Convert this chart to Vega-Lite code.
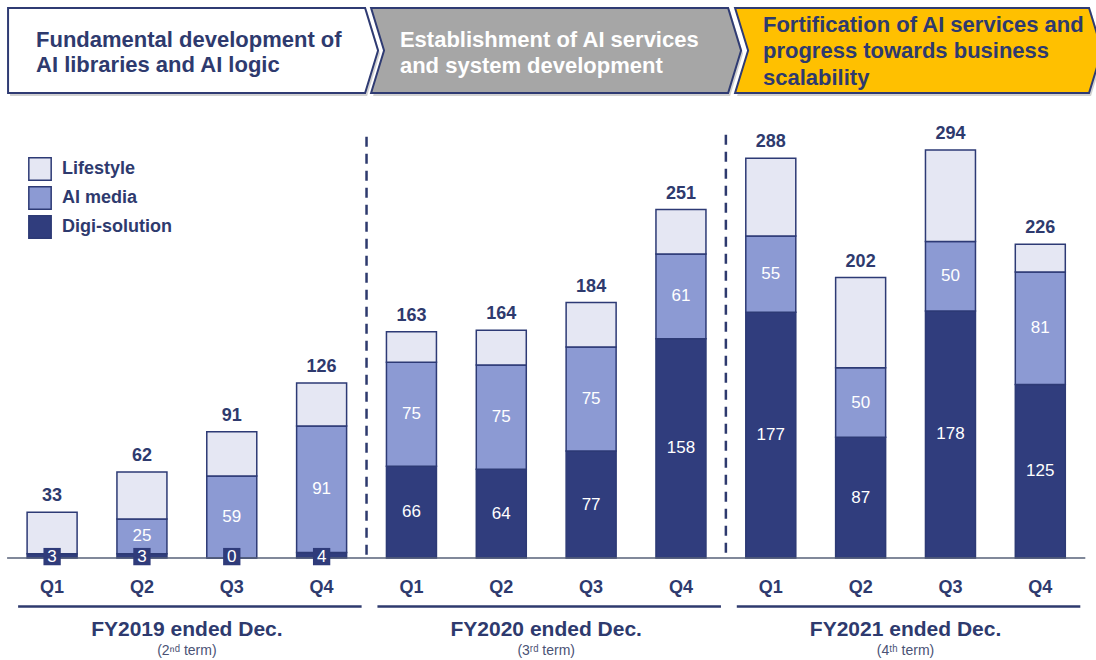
{
  "$schema": "https://vega.github.io/schema/vega-lite/v6.json",
  "width": 1096,
  "height": 660,
  "autosize": {"type": "none"},
  "padding": 0,
  "background": "white",
  "config": {"view": {"stroke": null}, "font": "Liberation Sans"},
  "data": {"values": [
      {"fy": "FY2019 ended Dec.", "term": "(2ⁿᵈ term)", "q": "Q1", "idx": 0, "segment": "Digi-solution", "rank": 1, "value": 3},
      {"fy": "FY2019 ended Dec.", "term": "(2ⁿᵈ term)", "q": "Q1", "idx": 0, "segment": "AI media", "rank": 2, "value": 0},
      {"fy": "FY2019 ended Dec.", "term": "(2ⁿᵈ term)", "q": "Q1", "idx": 0, "segment": "Lifestyle", "rank": 3, "value": 30},
      {"fy": "FY2019 ended Dec.", "term": "(2ⁿᵈ term)", "q": "Q2", "idx": 1, "segment": "Digi-solution", "rank": 1, "value": 3},
      {"fy": "FY2019 ended Dec.", "term": "(2ⁿᵈ term)", "q": "Q2", "idx": 1, "segment": "AI media", "rank": 2, "value": 25},
      {"fy": "FY2019 ended Dec.", "term": "(2ⁿᵈ term)", "q": "Q2", "idx": 1, "segment": "Lifestyle", "rank": 3, "value": 34},
      {"fy": "FY2019 ended Dec.", "term": "(2ⁿᵈ term)", "q": "Q3", "idx": 2, "segment": "Digi-solution", "rank": 1, "value": 0},
      {"fy": "FY2019 ended Dec.", "term": "(2ⁿᵈ term)", "q": "Q3", "idx": 2, "segment": "AI media", "rank": 2, "value": 59},
      {"fy": "FY2019 ended Dec.", "term": "(2ⁿᵈ term)", "q": "Q3", "idx": 2, "segment": "Lifestyle", "rank": 3, "value": 32},
      {"fy": "FY2019 ended Dec.", "term": "(2ⁿᵈ term)", "q": "Q4", "idx": 3, "segment": "Digi-solution", "rank": 1, "value": 4},
      {"fy": "FY2019 ended Dec.", "term": "(2ⁿᵈ term)", "q": "Q4", "idx": 3, "segment": "AI media", "rank": 2, "value": 91},
      {"fy": "FY2019 ended Dec.", "term": "(2ⁿᵈ term)", "q": "Q4", "idx": 3, "segment": "Lifestyle", "rank": 3, "value": 31},
      {"fy": "FY2020 ended Dec.", "term": "(3ʳᵈ term)", "q": "Q1", "idx": 4, "segment": "Digi-solution", "rank": 1, "value": 66},
      {"fy": "FY2020 ended Dec.", "term": "(3ʳᵈ term)", "q": "Q1", "idx": 4, "segment": "AI media", "rank": 2, "value": 75},
      {"fy": "FY2020 ended Dec.", "term": "(3ʳᵈ term)", "q": "Q1", "idx": 4, "segment": "Lifestyle", "rank": 3, "value": 22},
      {"fy": "FY2020 ended Dec.", "term": "(3ʳᵈ term)", "q": "Q2", "idx": 5, "segment": "Digi-solution", "rank": 1, "value": 64},
      {"fy": "FY2020 ended Dec.", "term": "(3ʳᵈ term)", "q": "Q2", "idx": 5, "segment": "AI media", "rank": 2, "value": 75},
      {"fy": "FY2020 ended Dec.", "term": "(3ʳᵈ term)", "q": "Q2", "idx": 5, "segment": "Lifestyle", "rank": 3, "value": 25},
      {"fy": "FY2020 ended Dec.", "term": "(3ʳᵈ term)", "q": "Q3", "idx": 6, "segment": "Digi-solution", "rank": 1, "value": 77},
      {"fy": "FY2020 ended Dec.", "term": "(3ʳᵈ term)", "q": "Q3", "idx": 6, "segment": "AI media", "rank": 2, "value": 75},
      {"fy": "FY2020 ended Dec.", "term": "(3ʳᵈ term)", "q": "Q3", "idx": 6, "segment": "Lifestyle", "rank": 3, "value": 32},
      {"fy": "FY2020 ended Dec.", "term": "(3ʳᵈ term)", "q": "Q4", "idx": 7, "segment": "Digi-solution", "rank": 1, "value": 158},
      {"fy": "FY2020 ended Dec.", "term": "(3ʳᵈ term)", "q": "Q4", "idx": 7, "segment": "AI media", "rank": 2, "value": 61},
      {"fy": "FY2020 ended Dec.", "term": "(3ʳᵈ term)", "q": "Q4", "idx": 7, "segment": "Lifestyle", "rank": 3, "value": 32},
      {"fy": "FY2021 ended Dec.", "term": "(4ᵗʰ term)", "q": "Q1", "idx": 8, "segment": "Digi-solution", "rank": 1, "value": 177},
      {"fy": "FY2021 ended Dec.", "term": "(4ᵗʰ term)", "q": "Q1", "idx": 8, "segment": "AI media", "rank": 2, "value": 55},
      {"fy": "FY2021 ended Dec.", "term": "(4ᵗʰ term)", "q": "Q1", "idx": 8, "segment": "Lifestyle", "rank": 3, "value": 56},
      {"fy": "FY2021 ended Dec.", "term": "(4ᵗʰ term)", "q": "Q2", "idx": 9, "segment": "Digi-solution", "rank": 1, "value": 87},
      {"fy": "FY2021 ended Dec.", "term": "(4ᵗʰ term)", "q": "Q2", "idx": 9, "segment": "AI media", "rank": 2, "value": 50},
      {"fy": "FY2021 ended Dec.", "term": "(4ᵗʰ term)", "q": "Q2", "idx": 9, "segment": "Lifestyle", "rank": 3, "value": 65},
      {"fy": "FY2021 ended Dec.", "term": "(4ᵗʰ term)", "q": "Q3", "idx": 10, "segment": "Digi-solution", "rank": 1, "value": 178},
      {"fy": "FY2021 ended Dec.", "term": "(4ᵗʰ term)", "q": "Q3", "idx": 10, "segment": "AI media", "rank": 2, "value": 50},
      {"fy": "FY2021 ended Dec.", "term": "(4ᵗʰ term)", "q": "Q3", "idx": 10, "segment": "Lifestyle", "rank": 3, "value": 66},
      {"fy": "FY2021 ended Dec.", "term": "(4ᵗʰ term)", "q": "Q4", "idx": 11, "segment": "Digi-solution", "rank": 1, "value": 125},
      {"fy": "FY2021 ended Dec.", "term": "(4ᵗʰ term)", "q": "Q4", "idx": 11, "segment": "AI media", "rank": 2, "value": 81},
      {"fy": "FY2021 ended Dec.", "term": "(4ᵗʰ term)", "q": "Q4", "idx": 11, "segment": "Lifestyle", "rank": 3, "value": 20}
  ]},
  "layer": [
    {
      "mark": {"type": "bar", "orient": "vertical", "width": 50, "stroke": "#2d3a75", "strokeWidth": 1.5},
      "encoding": {
        "x": {"field": "idx", "type": "quantitative", "scale": {"domain": [-0.58, 11.62], "nice": false, "zero": false, "padding": 0}, "axis": null},
        "y": {"field": "value", "type": "quantitative", "stack": "zero", "scale": {"domain": [-73.5, 402], "nice": false, "zero": false, "padding": 0}, "axis": null},
        "color": {
          "field": "segment",
          "type": "nominal",
          "scale": {"domain": ["Lifestyle", "AI media", "Digi-solution"], "range": ["#e5e7f3", "#8c9ad3", "#303d7d"]},
          "legend": {
            "title": null,
            "orient": "none",
            "legendX": 28,
            "legendY": 157,
            "symbolType": "square",
            "symbolSize": 500,
            "symbolStrokeColor": "#2d3a75",
            "symbolStrokeWidth": 1.5,
            "labelFontSize": 18,
            "labelFontWeight": "bold",
            "labelColor": "#2e3a6e",
            "labelOffset": 10,
            "rowPadding": -1,
            "padding": 0
          }
        },
        "order": {"field": "rank", "type": "quantitative"}
      }
    },
    {
      "data": {"values": [{"phase": "Fundamental development of AI libraries and AI logic"}]},
      "mark": {"type": "point", "filled": true, "shape": "M-1,-0.23L0.93,-0.23L1,0L0.93,0.23L-1,0.23Z", "size": 136900, "color": "#7a7a7a", "opacity": 0.35, "strokeWidth": 0, "xOffset": 2, "yOffset": 3},
      "encoding": {"x": {"datum": 1.569, "type": "quantitative"}, "y": {"datum": 365.6, "type": "quantitative"}}
    },
    {
      "data": {"values": [{"phase": "Establishment of AI services and system development"}]},
      "mark": {"type": "point", "filled": true, "shape": "M-1,-0.23L0.93,-0.23L1,0L0.93,0.23L-1,0.23L-0.93,0Z", "size": 136900, "color": "#7a7a7a", "opacity": 0.35, "strokeWidth": 0, "xOffset": 2, "yOffset": 3},
      "encoding": {"x": {"datum": 5.61, "type": "quantitative"}, "y": {"datum": 365.6, "type": "quantitative"}}
    },
    {
      "data": {"values": [{"phase": "Fortification of AI services and progress towards business scalability"}]},
      "mark": {"type": "point", "filled": true, "shape": "M-1,-0.2316L0.929,-0.2316L1,0L0.929,0.2316L-1,0.2316L-0.929,0Z", "size": 134689, "color": "#7a7a7a", "opacity": 0.35, "strokeWidth": 0, "xOffset": 2, "yOffset": 3},
      "encoding": {"x": {"datum": 9.645, "type": "quantitative"}, "y": {"datum": 365.6, "type": "quantitative"}}
    },
    {
      "data": {"values": [{"phase": "Fundamental development of AI libraries and AI logic"}]},
      "mark": {"type": "point", "filled": true, "shape": "M-1,-0.23L0.93,-0.23L1,0L0.93,0.23L-1,0.23Z", "size": 136900, "fill": "#ffffff", "opacity": 1, "stroke": "#2f3b73", "strokeWidth": 2},
      "encoding": {"x": {"datum": 1.569, "type": "quantitative"}, "y": {"datum": 365.6, "type": "quantitative"}}
    },
    {
      "data": {"values": [{"phase": "Establishment of AI services and system development"}]},
      "mark": {"type": "point", "filled": true, "shape": "M-1,-0.23L0.93,-0.23L1,0L0.93,0.23L-1,0.23L-0.93,0Z", "size": 136900, "fill": "#a6a6a6", "opacity": 1, "stroke": "#2f3b73", "strokeWidth": 2},
      "encoding": {"x": {"datum": 5.61, "type": "quantitative"}, "y": {"datum": 365.6, "type": "quantitative"}}
    },
    {
      "data": {"values": [{"phase": "Fortification of AI services and progress towards business scalability"}]},
      "mark": {"type": "point", "filled": true, "shape": "M-1,-0.2316L0.929,-0.2316L1,0L0.929,0.2316L-1,0.2316L-0.929,0Z", "size": 134689, "fill": "#ffc000", "opacity": 1, "stroke": "#2f3b73", "strokeWidth": 2},
      "encoding": {"x": {"datum": 9.645, "type": "quantitative"}, "y": {"datum": 365.6, "type": "quantitative"}}
    },
    {
      "data": {"values": [{"title": "Fundamental development of\nAI libraries and AI logic"}]},
      "mark": {"type": "text", "align": "left", "baseline": "middle", "fontSize": 22, "fontWeight": "bold", "lineHeight": 25, "lineBreak": "\n", "color": "#2e3a6e"},
      "encoding": {"x": {"datum": -0.179, "type": "quantitative"}, "y": {"datum": 373.2, "type": "quantitative"}, "text": {"field": "title"}}
    },
    {
      "data": {"values": [{"title": "Establishment of AI services\nand system development"}]},
      "mark": {"type": "text", "align": "left", "baseline": "middle", "fontSize": 22, "fontWeight": "bold", "lineHeight": 26, "lineBreak": "\n", "color": "#ffffff"},
      "encoding": {"x": {"datum": 3.872, "type": "quantitative"}, "y": {"datum": 373.2, "type": "quantitative"}, "text": {"field": "title"}}
    },
    {
      "data": {"values": [{"title": "Fortification of AI services and\nprogress towards business\nscalability"}]},
      "mark": {"type": "text", "align": "left", "baseline": "middle", "fontSize": 22, "fontWeight": "bold", "lineHeight": 26.5, "lineBreak": "\n", "color": "#2e3a6e"},
      "encoding": {"x": {"datum": 7.913, "type": "quantitative"}, "y": {"datum": 384.0, "type": "quantitative"}, "text": {"field": "title"}}
    },
    {
      "data": {"values": [{"divider": "FY2019 | FY2020"}]},
      "mark": {"type": "point", "filled": false, "shape": "M0,-1L0,1", "size": 177494, "color": "#2e3a6e", "opacity": 1, "strokeWidth": 2.5, "strokeDash": [10, 7]},
      "encoding": {"x": {"datum": 3.5, "type": "quantitative"}, "y": {"datum": 151.75, "type": "quantitative"}}
    },
    {
      "data": {"values": [{"divider": "FY2020 | FY2021"}]},
      "mark": {"type": "point", "filled": false, "shape": "M0,-1L0,1", "size": 179183, "color": "#2e3a6e", "opacity": 1, "strokeWidth": 2.5, "strokeDash": [10, 7]},
      "encoding": {"x": {"datum": 7.5, "type": "quantitative"}, "y": {"datum": 152.5, "type": "quantitative"}}
    },
    {
      "mark": {"type": "rule", "color": "#566079", "strokeWidth": 1.5, "xOffset": -45, "x2Offset": 45},
      "encoding": {
        "x": {"aggregate": "min", "field": "idx", "type": "quantitative"},
        "x2": {"aggregate": "max", "field": "idx"},
        "y": {"datum": 0, "type": "quantitative"}
      }
    },
    {
      "mark": {"type": "text", "align": "center", "baseline": "middle", "fontSize": 18, "fontWeight": "bold", "dy": -16, "color": "#2e3a6e"},
      "encoding": {
        "x": {"field": "idx", "type": "quantitative"},
        "y": {"aggregate": "sum", "field": "value", "type": "quantitative", "stack": null},
        "text": {"aggregate": "sum", "field": "value", "type": "quantitative"}
      }
    },
    {
      "transform": [{"filter": "datum.segment === 'Digi-solution'"}],
      "mark": {"type": "text", "align": "center", "baseline": "middle", "fontSize": 18, "fontWeight": "bold", "color": "#2e3a6e"},
      "encoding": {"x": {"field": "idx", "type": "quantitative"}, "y": {"datum": -21.65, "type": "quantitative"}, "text": {"field": "q"}}
    },
    {
      "mark": {"type": "rule", "color": "#2e3a6e", "strokeWidth": 2.5, "xOffset": -34, "x2Offset": 40},
      "encoding": {
        "x": {"aggregate": "min", "field": "idx", "type": "quantitative"},
        "x2": {"aggregate": "max", "field": "idx"},
        "y": {"datum": -35.0, "type": "quantitative"},
        "detail": {"field": "fy"}
      }
    },
    {
      "mark": {"type": "text", "align": "center", "baseline": "middle", "fontSize": 21, "fontWeight": "bold", "color": "#2e3a6e"},
      "encoding": {
        "x": {"aggregate": "mean", "field": "idx", "type": "quantitative"},
        "y": {"datum": -51.9, "type": "quantitative"},
        "text": {"field": "fy"}
      }
    },
    {
      "mark": {"type": "text", "align": "center", "baseline": "middle", "fontSize": 14, "color": "#4a5275", "font": "Liberation Sans, DejaVu Sans"},
      "encoding": {
        "x": {"aggregate": "mean", "field": "idx", "type": "quantitative"},
        "y": {"datum": -67.0, "type": "quantitative"},
        "text": {"field": "term"}
      }
    },
    {
      "transform": [{"filter": "datum.segment === 'Digi-solution' && datum.value < 10"}],
      "mark": {"type": "square", "filled": true, "size": 300, "color": "#2f3b7a", "opacity": 1},
      "encoding": {"x": {"field": "idx", "type": "quantitative"}, "y": {"datum": 1, "type": "quantitative"}}
    },
    {
      "transform": [{"filter": "datum.segment === 'Digi-solution' && datum.value < 10"}],
      "mark": {"type": "text", "align": "center", "baseline": "middle", "fontSize": 17, "color": "#ffffff"},
      "encoding": {"x": {"field": "idx", "type": "quantitative"}, "y": {"datum": 1, "type": "quantitative"}, "text": {"field": "value", "type": "quantitative"}}
    },
    {
      "transform": [
        {"stack": "value", "groupby": ["idx"], "sort": [{"field": "rank", "order": "ascending"}], "as": ["s0", "s1"]},
        {"filter": "datum.segment !== 'Lifestyle' && datum.value >= 10"},
        {"fold": ["s0", "s1"], "as": ["edge", "pos"]}
      ],
      "mark": {"type": "text", "align": "center", "baseline": "middle", "fontSize": 17, "color": "#ffffff"},
      "encoding": {
        "x": {"field": "idx", "type": "quantitative"},
        "y": {"aggregate": "mean", "field": "pos", "type": "quantitative", "stack": null},
        "text": {"field": "value", "type": "quantitative"},
        "detail": {"field": "segment"}
      }
    }
  ]
}
